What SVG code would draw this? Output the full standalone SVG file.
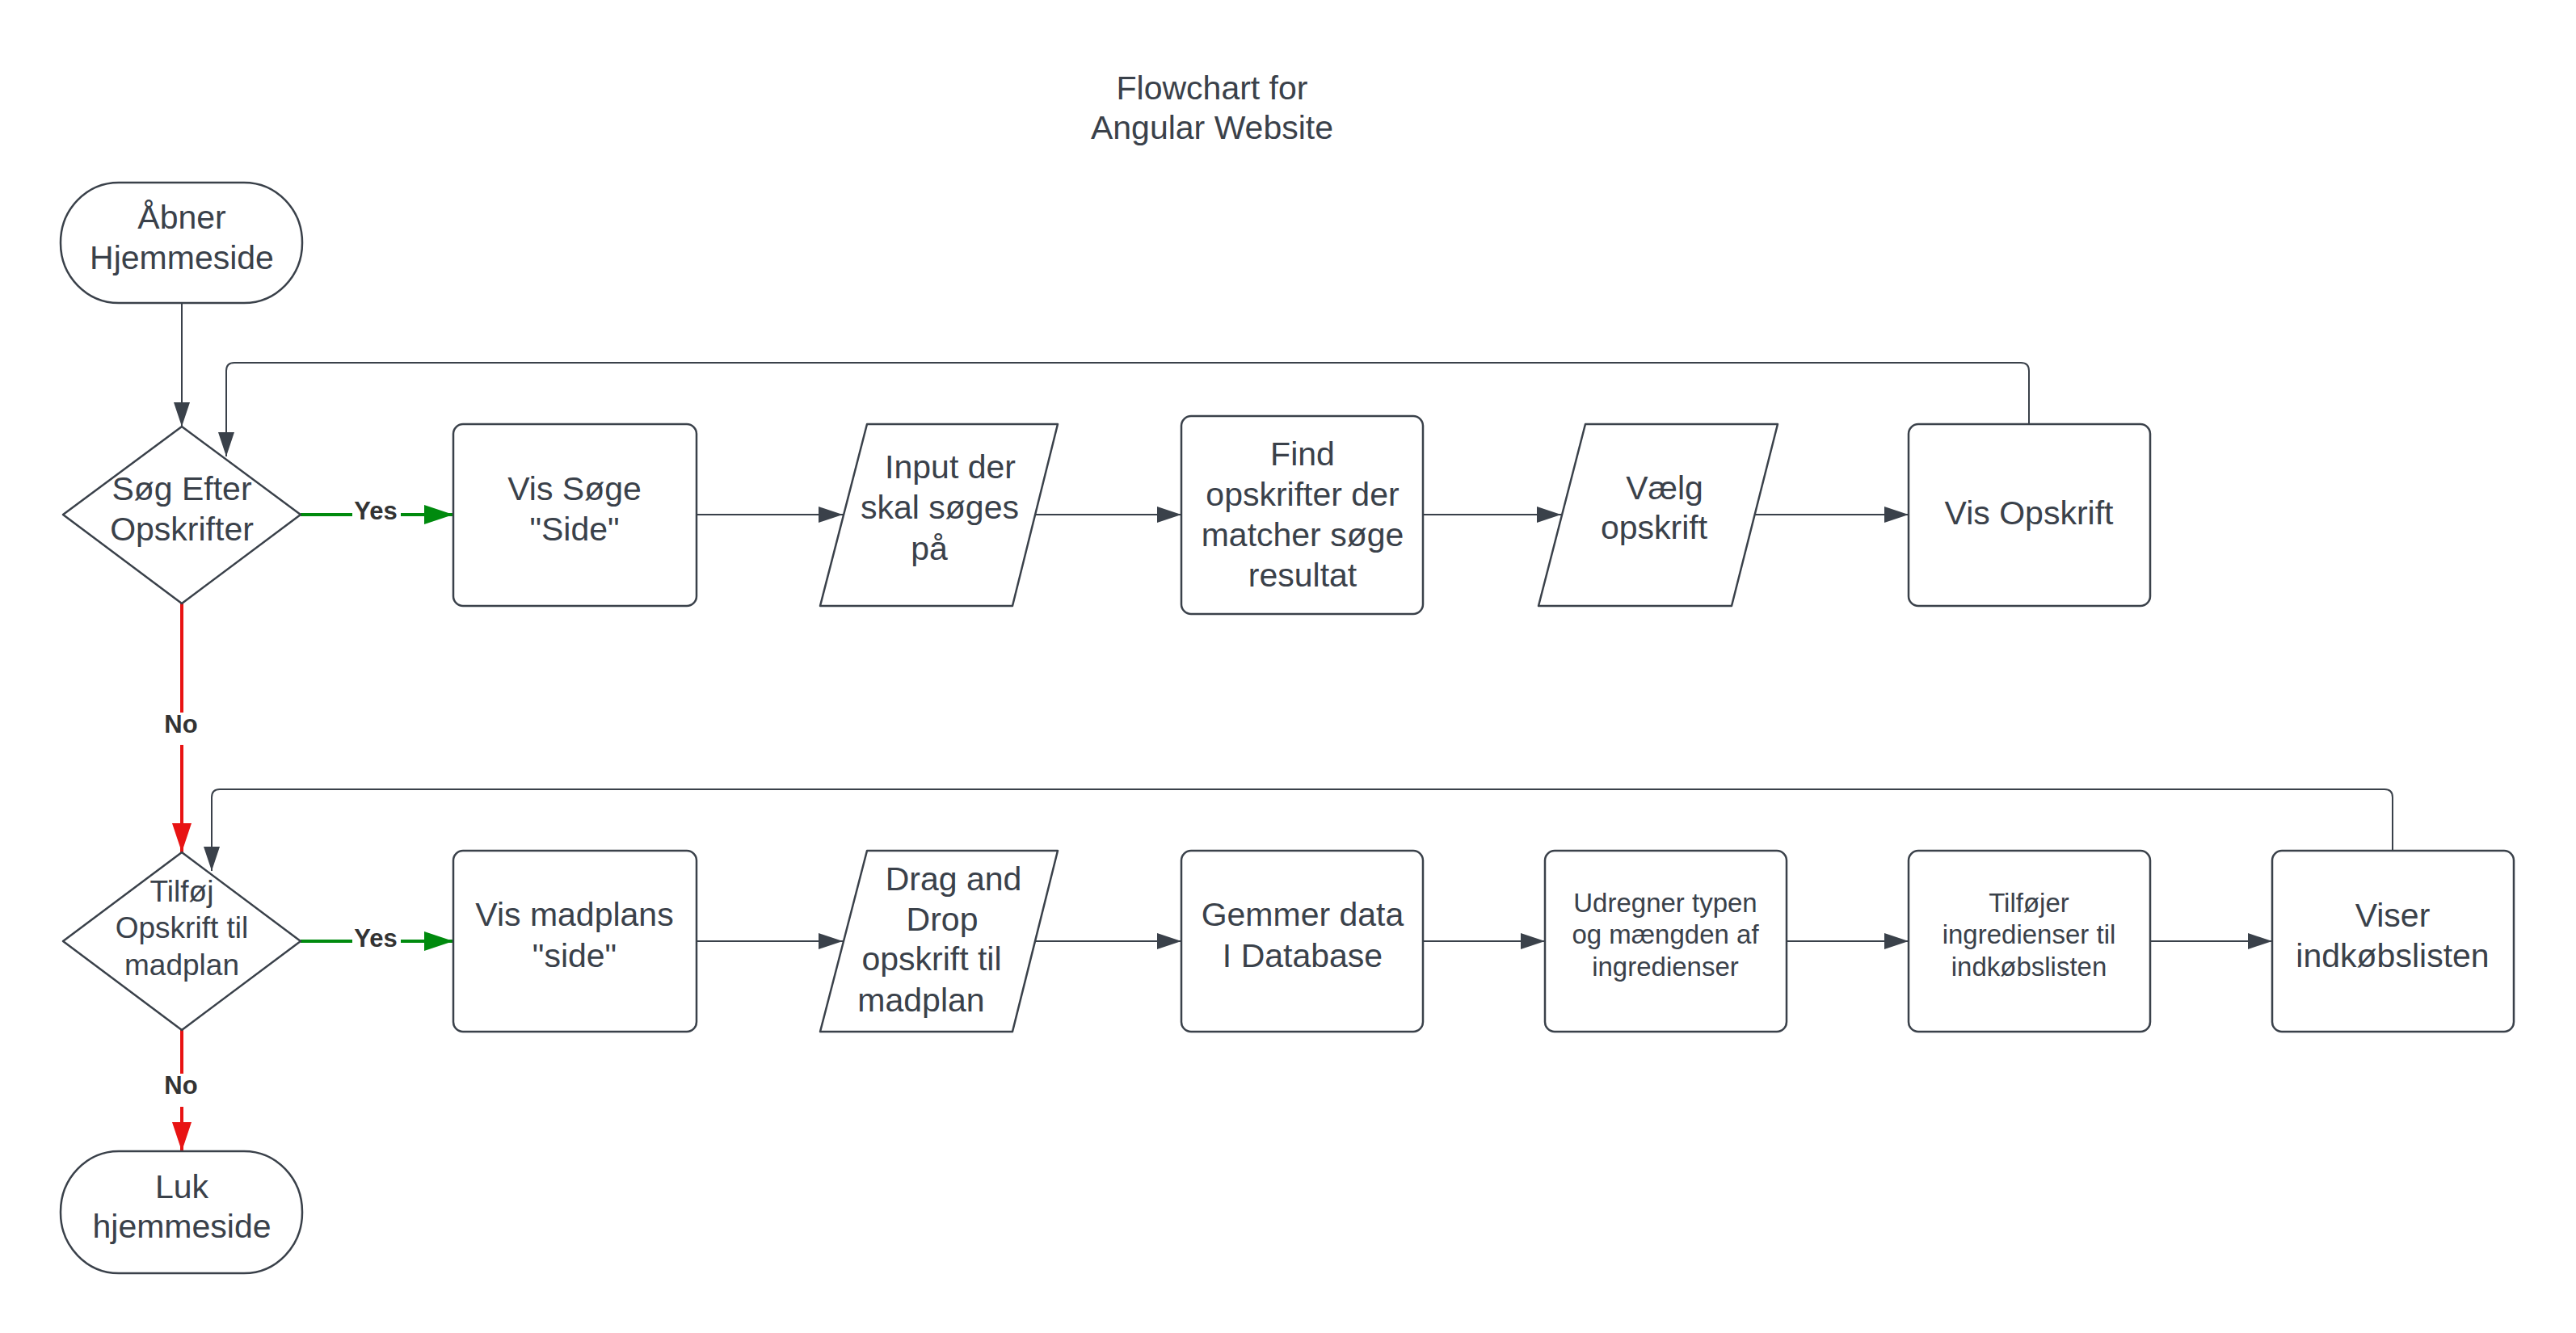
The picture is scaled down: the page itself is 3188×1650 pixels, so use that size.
<svg xmlns="http://www.w3.org/2000/svg" width="3188" height="1650" viewBox="0 0 3188 1650">
<style>
.n{fill:#fff;stroke:#3a414a;stroke-width:2.5;stroke-linejoin:round}
.t{font-family:"Liberation Sans",Arial,sans-serif;font-size:41px;fill:#3a414a;text-anchor:middle}
.s{font-size:33px}
.m{font-size:37px}
.c{fill:none;stroke:#3a414a;stroke-width:2}
.g{fill:none;stroke:#008a0e;stroke-width:4}
.r{fill:none;stroke:#e81313;stroke-width:4}
.l{font-family:"Liberation Sans",Arial,sans-serif;font-size:31px;font-weight:bold;fill:#333;text-anchor:middle}
</style>
<defs>
<marker id="ad" markerUnits="userSpaceOnUse" markerWidth="30" markerHeight="20" refX="30" refY="10" orient="auto"><path d="M0,0 L30,10 L0,20 Z" fill="#3a414a"/></marker>
<marker id="ag" markerUnits="userSpaceOnUse" markerWidth="36" markerHeight="24" refX="36" refY="12" orient="auto"><path d="M0,0 L36,12 L0,24 Z" fill="#008a0e"/></marker>
<marker id="ar" markerUnits="userSpaceOnUse" markerWidth="36" markerHeight="24" refX="36" refY="12" orient="auto"><path d="M0,0 L36,12 L0,24 Z" fill="#e81313"/></marker>
</defs>
<rect width="3188" height="1650" fill="#fff"/>
<g id="title"><text class="t" x="1500" y="123">Flowchart for</text><text class="t" x="1500" y="172">Angular Website</text></g>
<g id="connectors">
<path class="c" d="M225,375 V528" marker-end="url(#ad)"/>
<path class="g" d="M372,637 H561" marker-end="url(#ag)"/>
<path class="r" d="M225,747 V1055" marker-end="url(#ar)"/>
<path class="c" d="M862,637 H1043" marker-end="url(#ad)"/>
<path class="c" d="M1282,637 H1462" marker-end="url(#ad)"/>
<path class="c" d="M1761,637 H1932" marker-end="url(#ad)"/>
<path class="c" d="M2172,637 H2362" marker-end="url(#ad)"/>
<path class="c" d="M2511,525 V459 Q2511,449 2501,449 H290 Q280,449 280,459 V565" marker-end="url(#ad)"/>
<path class="g" d="M372,1165 H561" marker-end="url(#ag)"/>
<path class="r" d="M225,1275 V1425" marker-end="url(#ar)"/>
<path class="c" d="M862,1165 H1043" marker-end="url(#ad)"/>
<path class="c" d="M1282,1165 H1462" marker-end="url(#ad)"/>
<path class="c" d="M1761,1165 H1912" marker-end="url(#ad)"/>
<path class="c" d="M2211,1165 H2362" marker-end="url(#ad)"/>
<path class="c" d="M2661,1165 H2812" marker-end="url(#ad)"/>
<path class="c" d="M2961,1053 V987 Q2961,977 2951,977 H272 Q262,977 262,987 V1078" marker-end="url(#ad)"/>
<rect x="436" y="612" width="60" height="40" fill="#fff"/><text class="l" x="465" y="643">Yes</text>
<rect x="200" y="882" width="50" height="40" fill="#fff"/><text class="l" x="224" y="907">No</text>
<rect x="436" y="1140" width="60" height="40" fill="#fff"/><text class="l" x="465" y="1172">Yes</text>
<rect x="200" y="1329" width="50" height="41" fill="#fff"/><text class="l" x="224" y="1354">No</text>
</g>
<g id="start"><rect class="n" x="75" y="226" width="299" height="149" rx="72" ry="74"/><text class="t" x="225" y="283">Åbner</text><text class="t" x="225" y="333">Hjemmeside</text></g>
<g id="d1"><path class="n" d="M225,528 L372,637 L225,747 L78,637 Z"/><text class="t" x="225" y="619">Søg Efter</text><text class="t" x="225" y="669">Opskrifter</text></g>
<g id="visSoge"><rect class="n" x="561" y="525" width="301" height="225" rx="12"/><text class="t" x="711" y="619">Vis Søge</text><text class="t" x="711" y="669">"Side"</text></g>
<g id="input"><path class="n" d="M1073,525 H1309 L1253,750 H1015 Z"/><text class="t" x="1176" y="592">Input der</text><text class="t" x="1163" y="642">skal søges</text><text class="t" x="1150" y="693">på</text></g>
<g id="find"><rect class="n" x="1462" y="515" width="299" height="245" rx="12"/><text class="t" x="1612" y="576">Find</text><text class="t" x="1612" y="626">opskrifter der</text><text class="t" x="1612" y="676">matcher søge</text><text class="t" x="1612" y="726">resultat</text></g>
<g id="vaelg"><path class="n" d="M1962,525 H2200 L2143,750 H1904 Z"/><text class="t" x="2060" y="618">Vælg</text><text class="t" x="2047" y="667">opskrift</text></g>
<g id="visOpskrift"><rect class="n" x="2362" y="525" width="299" height="225" rx="12"/><text class="t" x="2511" y="649">Vis Opskrift</text></g>
<g id="d2"><path class="n" d="M225,1055 L372,1165 L225,1275 L78,1165 Z"/><text class="t m" x="225" y="1116">Tilføj</text><text class="t m" x="225" y="1161">Opskrift til</text><text class="t m" x="225" y="1207">madplan</text></g>
<g id="visMadplans"><rect class="n" x="561" y="1053" width="301" height="224" rx="12"/><text class="t" x="711" y="1146">Vis madplans</text><text class="t" x="711" y="1197">"side"</text></g>
<g id="drag"><path class="n" d="M1073,1053 H1309 L1253,1277 H1015 Z"/><text class="t" x="1180" y="1102">Drag and</text><text class="t" x="1166" y="1152">Drop</text><text class="t" x="1153" y="1201">opskrift til</text><text class="t" x="1140" y="1252">madplan</text></g>
<g id="gemmer"><rect class="n" x="1462" y="1053" width="299" height="224" rx="12"/><text class="t" x="1612" y="1146">Gemmer data</text><text class="t" x="1612" y="1197">I Database</text></g>
<g id="udregner"><rect class="n" x="1912" y="1053" width="299" height="224" rx="12"/><text class="t s" x="2061" y="1129">Udregner typen</text><text class="t s" x="2061" y="1168">og mængden af</text><text class="t s" x="2061" y="1208">ingredienser</text></g>
<g id="tilfojer"><rect class="n" x="2362" y="1053" width="299" height="224" rx="12"/><text class="t s" x="2511" y="1129">Tilføjer</text><text class="t s" x="2511" y="1168">ingredienser til</text><text class="t s" x="2511" y="1208">indkøbslisten</text></g>
<g id="viser"><rect class="n" x="2812" y="1053" width="299" height="224" rx="12"/><text class="t" x="2961" y="1147">Viser</text><text class="t" x="2961" y="1197">indkøbslisten</text></g>
<g id="luk"><rect class="n" x="75" y="1425" width="299" height="151" rx="72" ry="75"/><text class="t" x="225" y="1483">Luk</text><text class="t" x="225" y="1532">hjemmeside</text></g>
</svg>
